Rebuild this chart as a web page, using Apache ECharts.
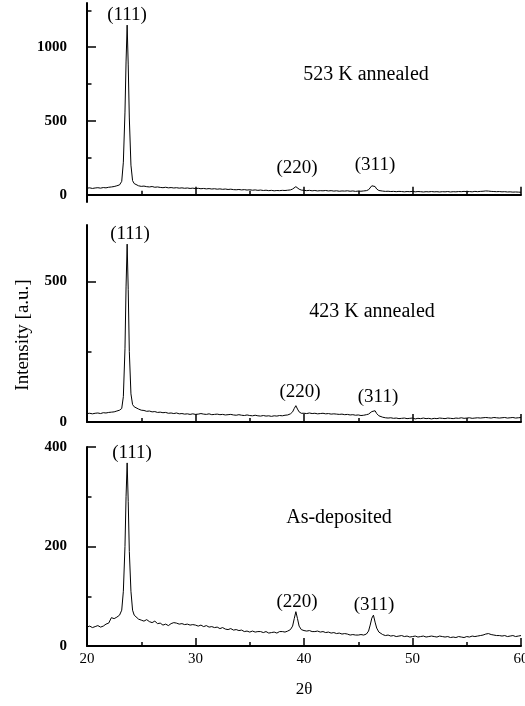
<!DOCTYPE html>
<html style="height: 100%;width: 100%">
<head>
    <meta charset="UTF-8">
    <script type="text/javascript" src="https://cdn.jsdelivr.net/npm/echarts@6/dist/echarts.min.js"></script>
    <title>XRD</title>
    <style>
        html, body { margin: 0; padding: 0; background: #fff; }
        #main { width: 525px; height: 706px; }
    </style>
</head>
<body>
<div id="main"></div>
<script type="text/javascript">
    // 2theta sample positions (shared by the three scans)
    var twoTheta = [
        20, 20.25, 20.5, 20.75, 21, 21.25, 21.5, 21.75, 22, 22.25, 22.5, 22.75, 23,
        23.2, 23.35, 23.5, 23.6, 23.7, 23.8, 23.9, 24.05, 24.2, 24.35,
        24.5, 24.75, 25, 25.25, 25.5, 25.75, 26, 26.25,
        26.5, 26.75, 27, 27.25, 27.5, 27.75, 28, 28.25,
        28.5, 28.75, 29, 29.25, 29.5, 29.75, 30, 30.25,
        30.5, 30.75, 31, 31.25, 31.5, 31.75, 32, 32.25,
        32.5, 32.75, 33, 33.25, 33.5, 33.75, 34, 34.25,
        34.5, 34.75, 35, 35.25, 35.5, 35.75, 36, 36.25,
        36.5, 36.75, 37, 37.25, 37.5, 37.75, 38, 38.25,
        38.5, 38.75,
        38.95, 39.1, 39.25, 39.4, 39.55, 39.75,
        40, 40.25, 40.5, 40.75, 41, 41.25, 41.5, 41.75,
        42, 42.25, 42.5, 42.75, 43, 43.25, 43.5, 43.75,
        44, 44.25, 44.5, 44.75, 45, 45.25, 45.5, 45.75,
        45.95, 46.1, 46.25, 46.4, 46.55, 46.7, 46.9,
        47.25, 47.5, 47.75, 48, 48.25, 48.5, 48.75, 49,
        49.25, 49.5, 49.75, 50, 50.25, 50.5, 50.75, 51,
        51.25, 51.5, 51.75, 52, 52.25, 52.5, 52.75, 53,
        53.25, 53.5, 53.75, 54, 54.25, 54.5, 54.75, 55,
        55.25, 55.5, 55.75, 56, 56.25, 56.5, 56.75, 57,
        57.25, 57.5, 57.75, 58, 58.25, 58.5, 58.75, 59,
        59.25, 59.5, 59.75, 60
    ];

    // 523 K annealed
    var annealed523 = [
        44, 46, 42, 45, 47, 44, 48, 46, 50, 52, 55, 60, 66,
        90, 220, 560, 900, 1150, 880, 520, 200, 95, 75,
        66, 60, 56, 58, 54, 52, 55, 50,
        52, 49, 47, 50, 46, 48, 45, 47,
        44, 46, 43, 45, 42, 44, 41, 43,
        40, 42, 39, 41, 38, 40, 37, 39,
        36, 38, 35, 37, 34, 33, 35, 32,
        34, 31, 33, 30, 32, 29, 31, 28,
        30, 27, 29, 26, 28, 27, 29, 28,
        30, 32,
        38, 46, 54, 46, 37, 31,
        29, 27, 29, 26, 28, 25, 27, 26,
        28, 25, 27, 24, 26, 23, 25, 24,
        26, 23, 25, 22, 24, 23, 25, 27,
        33, 45, 60, 70, 55, 38, 28,
        24, 22, 23, 21, 22, 20, 22, 21,
        19, 21, 20, 22, 19, 21, 20, 18,
        20, 19, 21, 19, 20, 18, 20, 19,
        21, 18, 20, 19, 21, 20, 22, 20,
        21, 19, 22, 20, 22, 23, 25, 24,
        22, 21, 20, 21, 19, 20, 18, 19,
        17, 18, 17, 16
    ];

    // 423 K annealed
    var annealed423 = [
        30, 31, 29, 31, 32, 30, 33, 32, 34, 35, 36, 39, 42,
        48, 90, 260, 480, 632, 470, 250, 100, 62, 54,
        50, 46, 42, 41, 38, 39, 36, 37,
        34, 35, 33, 34, 31, 32, 30, 32,
        29, 30, 28, 29, 27, 29, 27, 28,
        30, 28, 27, 29, 26, 27, 28, 26,
        27, 25, 26, 27, 25, 24, 26, 24,
        23, 25, 23, 22, 24, 22, 21, 23,
        21, 22, 20, 22, 21, 23, 22, 24,
        25, 29,
        36, 48, 58, 46, 36, 31,
        31, 30, 32, 30, 31, 29, 30, 31,
        29, 30, 28, 29, 28, 27, 28, 26,
        27, 25, 26, 24, 25, 23, 24, 26,
        28, 32, 37, 42, 40, 30, 22,
        17, 15, 14, 15, 13, 14, 12, 13,
        14, 12, 13, 14, 11, 13, 12, 14,
        12, 13, 11, 13, 12, 14, 13, 12,
        14, 13, 12, 14, 13, 15, 13, 14,
        15, 13, 14, 15, 14, 15, 16, 15,
        14, 16, 15, 14, 15, 16, 14, 15,
        16, 14, 15, 16
    ];

    // As-deposited
    var asDeposited = [
        38, 40, 37, 39, 41, 38, 40, 44, 46, 57, 55, 58, 62,
        72, 110, 200, 300, 368, 290, 190, 110, 72, 62,
        58, 54, 52, 50, 53, 49, 47, 50,
        45, 46, 42, 44, 41, 45, 47, 46,
        44, 45, 43, 44, 42, 43, 42, 40,
        42, 39, 41, 38, 39, 37, 38, 35,
        37, 34, 33, 35, 32, 33, 31, 32,
        29, 30, 28, 30, 28, 29, 29, 27,
        29, 26, 27, 28, 26, 29, 29, 28,
        30, 33,
        40, 55, 69, 55, 40, 33,
        31, 30, 31, 29, 29, 30, 28, 29,
        27, 28, 26, 27, 25, 26, 24, 25,
        24, 22, 23, 22, 22, 23, 22, 24,
        30, 42, 56, 62, 48, 36, 28,
        23, 21, 22, 20, 21, 19, 20, 21,
        19, 20, 18, 19, 20, 18, 19, 20,
        18, 19, 20, 19, 18, 20, 19, 18,
        19, 17, 18, 17, 19, 18, 17, 19,
        18, 20, 19, 20, 21, 22, 24, 25,
        23, 22, 21, 21, 20, 21, 19, 20,
        21, 19, 20, 21
    ];

    // y axis ranges and tick values, top to bottom
    var yRanges = [[-50, 1300], [0, 700], [0, 400]];
    var yMajorTicks = [[0, 500, 1000], [0, 500], [0, 200, 400]];
    var yMinorTicks = [[250, 750, 1250], [250], [100, 300]];
    var xTicks = [20, 30, 40, 50, 60];

    var panelNames = ['523 K annealed', '423 K annealed', 'As-deposited'];
    var peakNames = ['(111)', '(220)', '(311)'];

    var scans = [annealed523, annealed423, asDeposited];

    var serif = '"Liberation Serif", "DejaVu Serif", serif';
    var gridTops = [3, 225, 447];
    var gridHeights = [199, 197, 199];

    var grids = [], xAxes = [], yAxes = [], series = [];
    for (var i = 0; i < 3; i++) {
        grids.push({left: 87, right: 4, top: gridTops[i], height: gridHeights[i],
            containLabel: false, outerBoundsMode: 'none'});
        xAxes.push({
            type: 'value', gridIndex: i,
            min: xTicks[0], max: xTicks[xTicks.length - 1], interval: 10,
            axisLine: {show: true, lineStyle: {color: '#000', width: 2}},
            axisTick: {show: true, inside: true, length: 8, lineStyle: {color: '#000', width: 1.5}},
            minorTick: {show: true, splitNumber: 2, length: 4, lineStyle: {color: '#000', width: 1.5}},
            axisLabel: {show: i === 2, color: '#000', fontFamily: serif, fontSize: 15, margin: 6,
                alignMinLabel: 'center', alignMaxLabel: 'center'},
            splitLine: {show: false},
            name: i === 2 ? '2θ' : '',
            nameLocation: 'middle', nameGap: 35,
            nameTextStyle: {color: '#000', fontFamily: serif, fontSize: 17}
        });
        // main y axis with labelled ticks
        yAxes.push({
            type: 'value', gridIndex: i, position: 'left',
            min: yRanges[i][0], max: yRanges[i][1],
            axisLine: {show: true, lineStyle: {color: '#000', width: 2}},
            axisTick: {show: true, inside: true, length: 9, customValues: yMajorTicks[i],
                lineStyle: {color: '#000', width: 1.5}},
            axisLabel: {show: true, customValues: yMajorTicks[i], color: '#000', fontFamily: serif,
                fontWeight: 'bold', fontSize: 15, margin: 20,
                formatter: function (v) { return String(v); }},
            splitLine: {show: false}
        });
        // second y axis only for the short ticks
        yAxes.push({
            type: 'value', gridIndex: i, position: 'left',
            min: yRanges[i][0], max: yRanges[i][1],
            axisLine: {show: false},
            axisTick: {show: true, inside: true, length: 4.5, customValues: yMinorTicks[i],
                lineStyle: {color: '#000', width: 1.5}},
            axisLabel: {show: false},
            splitLine: {show: false}
        });
        series.push({
            type: 'line',
            xAxisIndex: i, yAxisIndex: i * 2,
            data: twoTheta.map(function (t, k) { return [t, scans[i][k]]; }),
            showSymbol: false, symbol: 'none',
            lineStyle: {color: '#000', width: 1},
            animation: false
        });
    }

    // text placement (pixels)
    var peakLabelPos = [
        [[127, 15], [297, 168], [375, 165]],
        [[130, 234], [300, 392], [378, 397]],
        [[132, 453], [297, 602], [374, 605]]
    ];
    var panelNamePos = [[366, 75], [372, 312], [339, 518]];

    function txt(s, x, y, size, rot) {
        return {
            type: 'text', x: x, y: y, rotation: rot || 0, silent: true,
            style: {text: s, fill: '#000', font: size + 'px ' + serif,
                align: 'center', verticalAlign: 'middle',
                textAlign: 'center', textVerticalAlign: 'middle'}
        };
    }
    var graphics = [];
    for (var p = 0; p < 3; p++) {
        for (var q = 0; q < 3; q++) {
            graphics.push(txt(peakNames[q], peakLabelPos[p][q][0], peakLabelPos[p][q][1], 19));
        }
        graphics.push(txt(panelNames[p], panelNamePos[p][0], panelNamePos[p][1], 20));
    }
    graphics.push(txt('Intensity [a.u.]', 23, 335, 19, Math.PI / 2));

    var myChart = echarts.init(document.getElementById('main'));
    myChart.setOption({
        animation: false,
        backgroundColor: '#fff',
        grid: grids,
        xAxis: xAxes,
        yAxis: yAxes,
        series: series,
        graphic: graphics
    });
</script>
</body>
</html>
